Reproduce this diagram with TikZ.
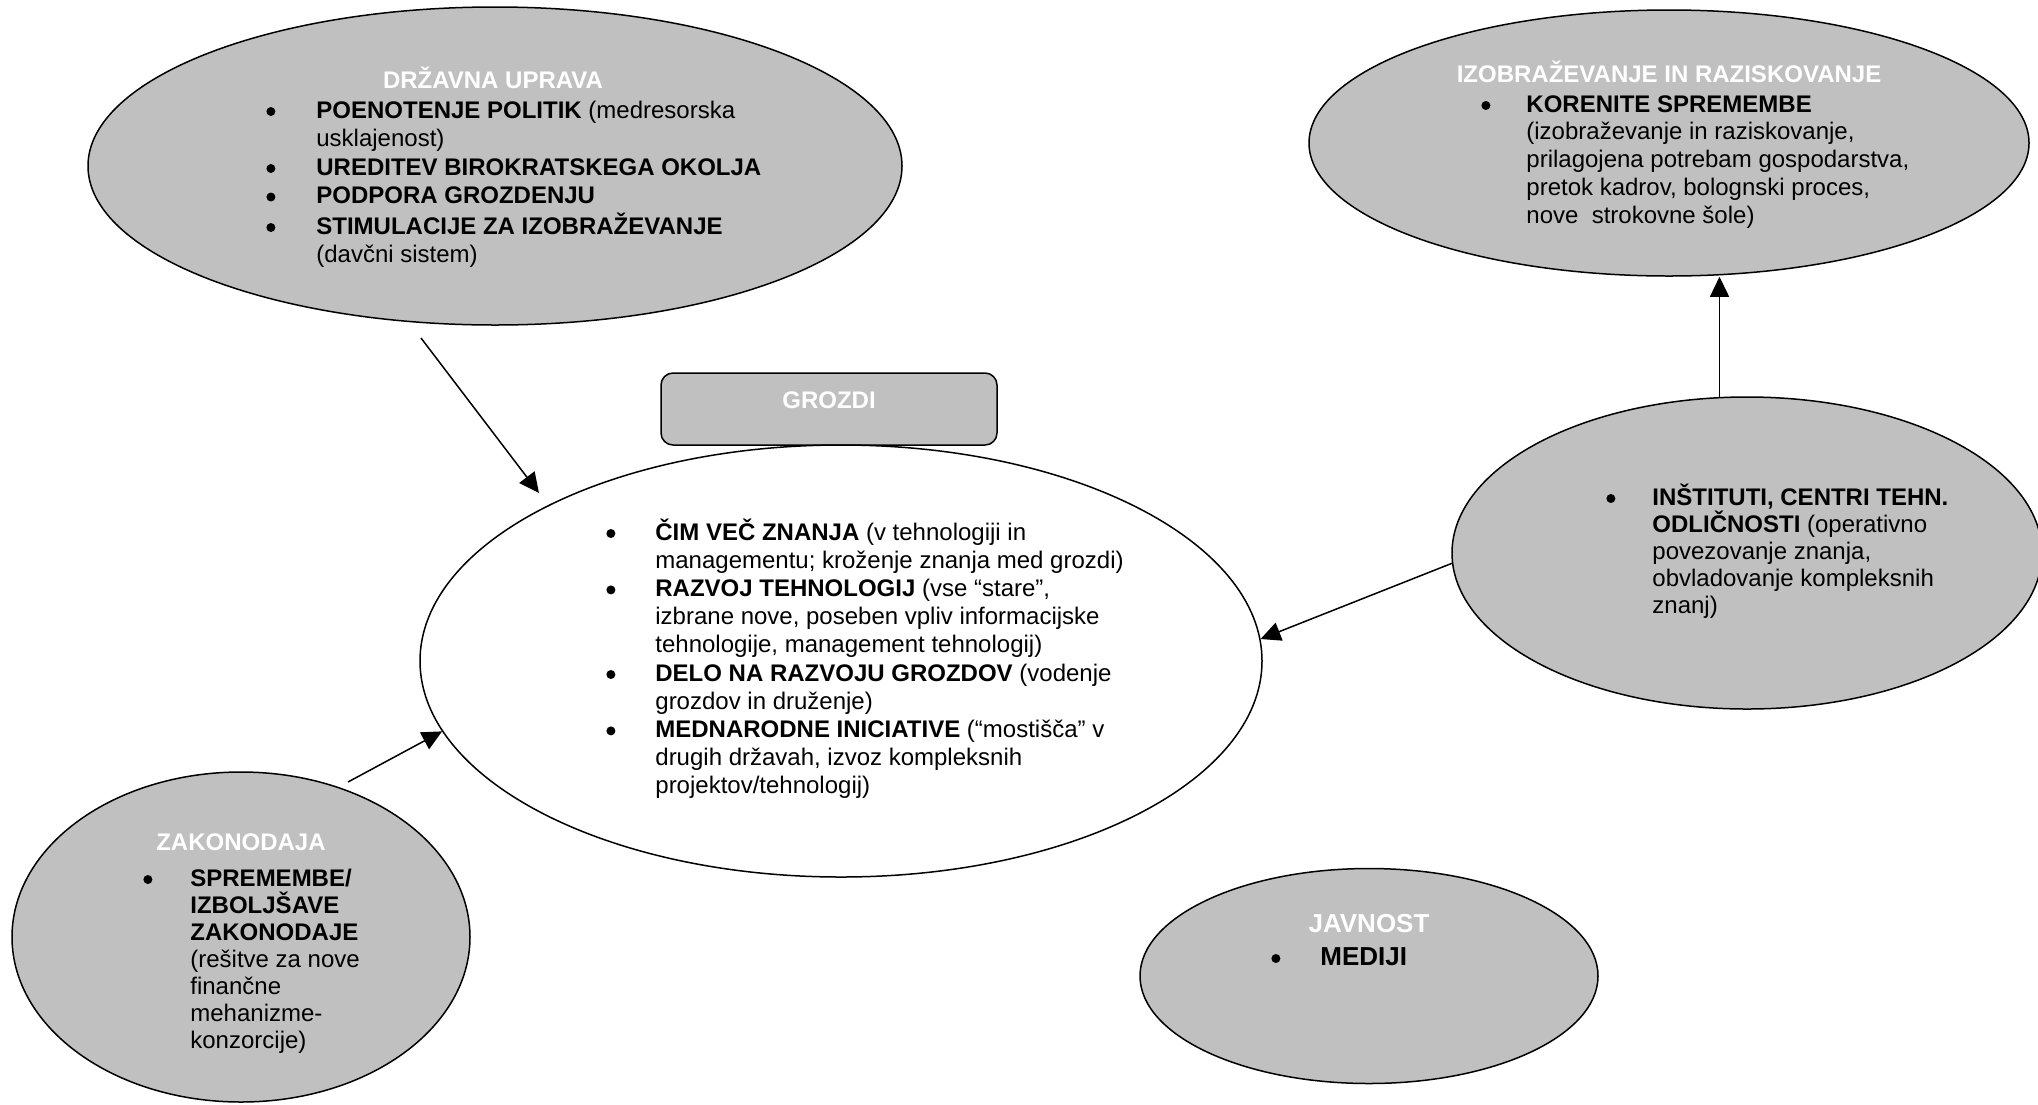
\documentclass[tikz,border=0pt]{standalone}
\usepackage{fontspec}
\setmainfont{Liberation Sans}
\usetikzlibrary{shapes.geometric,arrows.meta}
\definecolor{shade}{HTML}{C0C0C0}
\newcommand\bul{\tikz[baseline=0pt]\fill[black] (2.25pt,3.25pt) circle (2.25pt);}
\newcommand\B[1]{\makebox[#1][l]{\bul}}
\newcommand\blist[3]{{\fontsize{#1}{#2}\selectfont\lineskiplimit=-100pt\lineskip=0pt\relax\vtop{\halign{##\hfil&##\hfil\cr#3\crcr}}}}
\begin{document}
\begin{tikzpicture}[x=0.5pt,y=-0.5pt,
  ell/.style={ellipse,draw,line width=0.75pt,fill=shade,inner sep=0pt},
  ttl/.style={anchor=base,inner sep=0pt,text=white,font=\fontsize{12pt}{14pt}\selectfont\bfseries},
  body/.style={anchor=base west,inner sep=0pt},
  arr/.style={line width=0.75pt,-{Triangle[length=10pt,width=9.5pt]}}
]
\fill[white] (0,0) rectangle (2038,1104);
\useasboundingbox (0,0) rectangle (2038,1104);

% shapes
\node[ell,minimum width=407pt,minimum height=159pt] (du) at (495,166) {};
\node[ell,minimum width=360pt,minimum height=133pt] (ir) at (1669,143) {};
\node[draw,line width=0.75pt,fill=shade,rounded corners=6pt,minimum width=168pt,minimum height=36pt,inner sep=0pt] (grozdi) at (829,409) {};
\node[ell,fill=white,minimum width=421pt,minimum height=216pt] (cen) at (841,661) {};
\node[ell,minimum width=295pt,minimum height=156pt] (ins) at (1747,553) {};
\node[ell,minimum width=229pt,minimum height=165pt] (zak) at (241,937) {};
\node[ell,minimum width=229pt,minimum height=107.5pt] (jav) at (1369,976) {};

% titles
\node[ttl] (dut) at (493,88) {DRŽAVNA UPRAVA};
\node[ttl] (irt) at (1669,82) {IZOBRAŽEVANJE IN RAZISKOVANJE};
\node[ttl] (grt) at (829,408) {GROZDI};
\node[ttl] (zakt) at (241,850) {ZAKONODAJA};
\node[ttl,font=\fontsize{13pt}{15pt}\selectfont\bfseries] (javt) at (1369,932) {JAVNOST};

% bodies
\node[body] (dub) at (266,118) {\blist{12pt}{14.25pt}{%
\B{25pt}&\textbf{POENOTENJE POLITIK} (medresorska\cr
&usklajenost)\cr
\B{25pt}&\textbf{UREDITEV BIROKRATSKEGA OKOLJA}\cr
\B{25pt}&\textbf{PODPORA GROZDENJU}\cr\noalign{\vskip1pt}
\B{25pt}&\textbf{STIMULACIJE ZA IZOBRAŽEVANJE}\cr
&(davčni sistem)}};

\node[body] (irb) at (1481,112) {\blist{12pt}{13.875pt}{%
\B{22.5pt}&\textbf{KORENITE SPREMEMBE}\cr
&(izobraževanje in raziskovanje,\cr
&prilagojena potrebam gospodarstva,\cr
&pretok kadrov, bolognski proces,\cr
&nove\ \ strokovne šole)}};

\node[body] (cenb) at (606,540) {\blist{12pt}{14.1pt}{%
\B{24.5pt}&\textbf{ČIM VEČ ZNANJA} (v tehnologiji in\cr
&managementu; kroženje znanja med grozdi)\cr
\B{24.5pt}&\textbf{RAZVOJ TEHNOLOGIJ} (vse “stare”,\cr
&izbrane nove, poseben vpliv informacijske\cr
&tehnologije, management tehnologij)\cr
\B{24.5pt}&\textbf{DELO NA RAZVOJU GROZDOV} (vodenje\cr
&grozdov in druženje)\cr
\B{24.5pt}&\textbf{MEDNARODNE INICIATIVE} (“mostišča” v\cr
&drugih državah, izvoz kompleksnih\cr
&projektov/tehnologij)}};

\node[body] (insb) at (1606,505) {\blist{12pt}{13.5pt}{%
\B{23pt}&\textbf{INŠTITUTI, CENTRI TEHN.}\cr
&\textbf{ODLIČNOSTI} (operativno\cr
&povezovanje znanja,\cr
&obvladovanje kompleksnih\cr
&znanj)}};

\node[body] (zakb) at (143,886) {\blist{12pt}{13.5pt}{%
\B{23.5pt}&\textbf{SPREMEMBE/}\cr
&\textbf{IZBOLJŠAVE}\cr
&\textbf{ZAKONODAJE}\cr
&(rešitve za nove\cr
&finančne\cr
&mehanizme-\cr
&konzorcije)}};

\node[body] (javb) at (1271,965) {\blist{13pt}{15pt}{%
\B{24.5pt}&\textbf{MEDIJI}}};

% connectors
\coordinate (a1) at (421,338);
\coordinate (a2) at (539,493);
\draw[arr] (a1) -- (a2);
\coordinate (b1) at (348,782);
\draw[arr] (b1) -- (cen.190.5);
\draw[arr] (ins.182.3) -- (cen.3.3);
\draw[arr] (ins.100.5) -- (ins.100.5 |- ir.south);
\end{tikzpicture}
\end{document}
